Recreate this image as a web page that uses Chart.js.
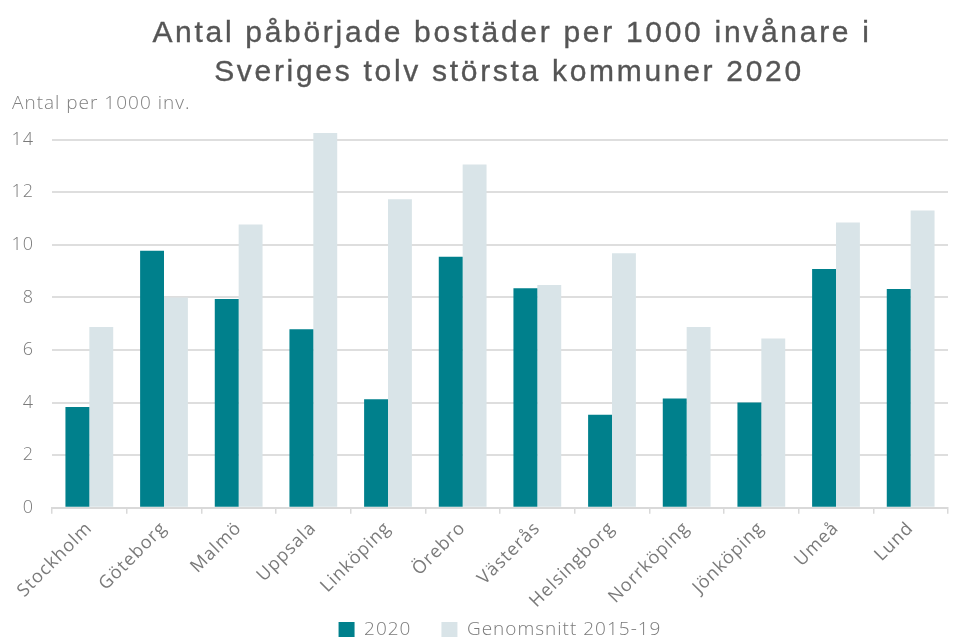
<!DOCTYPE html>
<html>
<head>
<meta charset="utf-8">
<script src="https://cdn.jsdelivr.net/npm/chart.js@4"></script>
<style>
  html, body { margin: 0; padding: 0; background: #fff; }
  #wrap { width: 955px; height: 637px; }
</style>
</head>
<body>
<div id="wrap"><canvas id="chart"></canvas></div>
<script>
const kommuner = ['Stockholm', 'Göteborg', 'Malmö', 'Uppsala', 'Linköping', 'Örebro',
  'Västerås', 'Helsingborg', 'Norrköping', 'Jönköping', 'Umeå', 'Lund'];
const values2020 = [3.83, 9.78, 7.94, 6.79, 4.13, 9.55, 8.35, 3.54, 4.15, 4.0, 9.08, 8.32];
const snitt2015_19 = [6.88, 8.0, 10.78, 14.26, 11.74, 13.06, 8.47, 9.68, 6.88, 6.44, 10.85, 11.31];
const yTicks = [0, 2, 4, 6, 8, 10, 12, 14];
const titleLines = ['Antal påbörjade bostäder per 1000 invånare i', 'Sveriges tolv största kommuner 2020'];

const grey = '#7a7a7a';
const legendOverlap = 26;

const tweaks = {
  id: 'tweaks',
  afterInit(chart) {
    // legend keeps a wide gap between items but reserves less room at the bottom
    const legend = chart.legend;
    const fit = legend.fit;
    legend.fit = function () { fit.call(this); this.height -= 12 + legendOverlap; };
  },
  // the original is rendered with slightly spaced letters
  beforeUpdate(chart) { chart.ctx.letterSpacing = '1px'; },
  afterLayout(chart) {
    // centre the legend under the plot area and let its empty top padding overlap the axis labels
    const l = chart.legend;
    const shift = (chart.chartArea.left + chart.chartArea.right) / 2 - (l.left + l.right) / 2;
    l.left += shift;
    l.right += shift;
    l.top -= legendOverlap;
    l.height += legendOverlap;
  },
  beforeDraw(chart) { chart.ctx.letterSpacing = '1px'; }
};

const mainTitle = {
  id: 'mainTitle',
  afterDraw(chart) {
    const ctx = chart.ctx;
    ctx.save();
    ctx.letterSpacing = '2.7px';
    ctx.font = '30px "Liberation Sans"';
    ctx.fillStyle = '#555555';
    ctx.strokeStyle = '#555555';
    ctx.lineWidth = 0.35;
    ctx.textAlign = 'center';
    ctx.textBaseline = 'alphabetic';
    ctx.fillText(titleLines[0], 512, 42);
    ctx.strokeText(titleLines[0], 512, 42);
    ctx.fillText(titleLines[1], 509, 81);
    ctx.strokeText(titleLines[1], 509, 81);
    ctx.restore();
  }
};

new Chart(document.getElementById('chart').getContext('2d'), {
  type: 'bar',
  data: {
    labels: kommuner,
    datasets: [
      { label: '2020', data: values2020, backgroundColor: '#00808c', clip: false },
      { label: 'Genomsnitt 2015-19', data: snitt2015_19, backgroundColor: '#d9e4e8', clip: false }
    ]
  },
  plugins: [tweaks, mainTitle],
  options: {
    responsive: true,
    maintainAspectRatio: false,
    animation: false,
    layout: { padding: { left: 12, right: 7, top: 92, bottom: 0 } },
    datasets: { bar: { categoryPercentage: 0.64, barPercentage: 1.0 } },
    plugins: {
      title: { display: false },
      subtitle: {
        display: true,
        text: 'Antal per 1000 inv.',
        align: 'start',
        color: '#808080',
        font: { family: 'Open Sans', size: 19, weight: 300, lineHeight: 1.2 },
        padding: { top: 0, bottom: 25 }
      },
      legend: {
        position: 'bottom',
        labels: {
          color: grey,
          boxWidth: 16,
          boxHeight: 15,
          padding: 30,
          font: { family: 'Open Sans', size: 19, weight: 300 }
        }
      },
      tooltip: { enabled: false }
    },
    scales: {
      x: {
        afterFit: (scale) => { scale.paddingLeft = 0; },
        grid: { display: true, drawOnChartArea: false, offset: true, color: '#d9d9d9', lineWidth: 1.5, tickLength: 6 },
        border: { color: '#d9d9d9', width: 2 },
        ticks: {
          color: grey,
          maxRotation: 45,
          minRotation: 45,
          padding: 4,
          font: { family: 'Open Sans', size: 18 }
        }
      },
      y: {
        min: 0,
        max: 14,
        afterBuildTicks: (axis) => { axis.ticks = yTicks.map(v => ({ value: v })); },
        afterFit: (scale) => { scale.width = 40; },
        grid: { color: '#dedede', lineWidth: 2, drawTicks: false },
        border: { display: false },
        ticks: {
          color: grey,
          padding: 18,
          font: { family: 'Open Sans', size: 18, weight: 300 }
        }
      }
    }
  }
});
</script>
</body>
</html>
